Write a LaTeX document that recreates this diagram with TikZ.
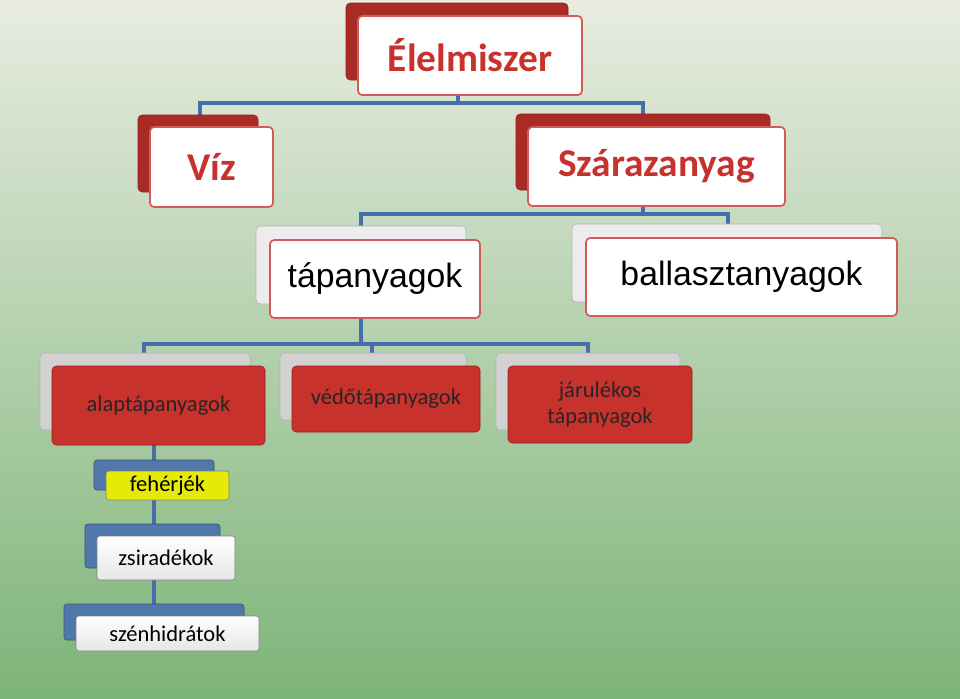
\documentclass[tikz,border=0pt]{standalone}
\usepackage{fontspec}
\setmainfont{Carlito}
\newfontfamily\arialfont{Liberation Sans}
\usetikzlibrary{positioning}
\definecolor{boxred}{RGB}{200,50,45}
\definecolor{darkred}{RGB}{150,30,30}
\definecolor{linkblue}{RGB}{70,110,170}
\definecolor{backblue}{RGB}{80,120,170}
\definecolor{bgtop}{RGB}{232,236,224}
\definecolor{bgbottom}{RGB}{125,180,120}
\tikzset{
  backbox/.style={draw=darkred, fill=boxred!85!black, rounded corners=3pt},
  greyback/.style={draw=gray!60, fill=gray!15, rounded corners=3pt},
  frontbox/.style={draw=boxred!80, line width=1.2pt, fill=white, rounded corners=3pt},
  redbox/.style={draw=darkred, fill=boxred, rounded corners=3pt},
  blueback/.style={draw=backblue!70!black, fill=backblue, rounded corners=2pt},
  link/.style={draw=linkblue, line width=2.2pt},
  title/.style={font=\bfseries\fontsize{28}{30}\selectfont, text=boxred},
  plain/.style={font=\arialfont\fontsize{24}{26}\selectfont},
  small/.style={font=\fontsize{16}{17}\selectfont, align=center, inner sep=0pt},
  redtext/.style={font=\fontsize{16}{18}\selectfont, align=center, inner sep=0pt, text=black!85}
}
\begin{document}
\begin{tikzpicture}[x=0.025cm, y=-0.025cm]
  \shade[top color=bgtop, bottom color=bgbottom] (0,0) rectangle (960,698);
  \useasboundingbox (0,0) rectangle (960,698);
  % connectors
  \draw[link] (458,95) -- (458,103) (200,115) -- (200,103) -- (643,103) -- (643,114);
  \draw[link] (643,206) -- (643,214) (361,226) -- (361,214) -- (728,214) -- (728,224);
  \draw[link] (361,318) -- (361,344) (144,353) -- (144,344) -- (588,344) -- (588,353)
    (372,344) -- (372,353);
  \draw[link] (154,445) -- (154,616);
  % top level
  \draw[backbox] (346,3) rectangle (568,80);
  \node[frontbox, minimum width=224*0.025cm, minimum height=79*0.025cm, title] (elelmiszer)
    at (470,55.5) {Élelmiszer};
  \draw[backbox] (138,115) rectangle (258,192);
  \node[frontbox, minimum width=123*0.025cm, minimum height=80*0.025cm, title] (viz)
    at (211.5,167) {Víz};
  \draw[backbox] (516,114) rectangle (770,190);
  \node[frontbox, minimum width=257*0.025cm, minimum height=79*0.025cm, title] (szaraz)
    at (656.5,166.5) {Szárazanyag};
  % second level
  \draw[greyback] (256,226) rectangle (466,304);
  \node[frontbox, minimum width=210*0.025cm, minimum height=78*0.025cm, plain] (tap)
    at (375,279) {tápanyagok};
  \draw[greyback] (572,224) rectangle (882,302);
  \node[frontbox, minimum width=311*0.025cm, minimum height=78*0.025cm, plain] (ballaszt)
    at (741.5,277) {ballasztanyagok};
  % third level
  \draw[greyback, fill=gray!35] (40,353) rectangle (250,430);
  \node[redbox, minimum width=213*0.025cm, minimum height=79*0.025cm, redtext] (alap)
    at (158.5,405.5) {alaptápanyagok};
  \draw[greyback, fill=gray!35] (280,353) rectangle (466,420);
  \node[redbox, minimum width=188*0.025cm, minimum height=66*0.025cm, redtext] (vedo)
    at (386,399) {védőtápanyagok};
  \draw[greyback, fill=gray!35] (496,353) rectangle (680,430);
  \node[redbox, minimum width=184*0.025cm, minimum height=77*0.025cm, redtext] (jarulekos)
    at (600,404.5) {járulékos\\tápanyagok};
  % fourth level
  \draw[blueback] (94,460) rectangle (214,490);
  \node[draw=gray, fill=yellow!90!green, minimum width=123*0.025cm, minimum height=29*0.025cm,
    small, rounded corners=2pt] (feherjek) at (167.5,485.5) {fehérjék};
  \draw[blueback] (85,524) rectangle (220,568);
  \node[draw=gray, top color=white, bottom color=gray!20, minimum width=138*0.025cm,
    minimum height=44*0.025cm, small, rounded corners=2pt] (zsir) at (166,558) {zsiradékok};
  \draw[blueback] (64,604) rectangle (244,640);
  \node[draw=gray, top color=white, bottom color=gray!20, minimum width=183*0.025cm,
    minimum height=35*0.025cm, small, rounded corners=2pt] (szen) at (167.5,633.5) {szénhidrátok};
\end{tikzpicture}
\end{document}
